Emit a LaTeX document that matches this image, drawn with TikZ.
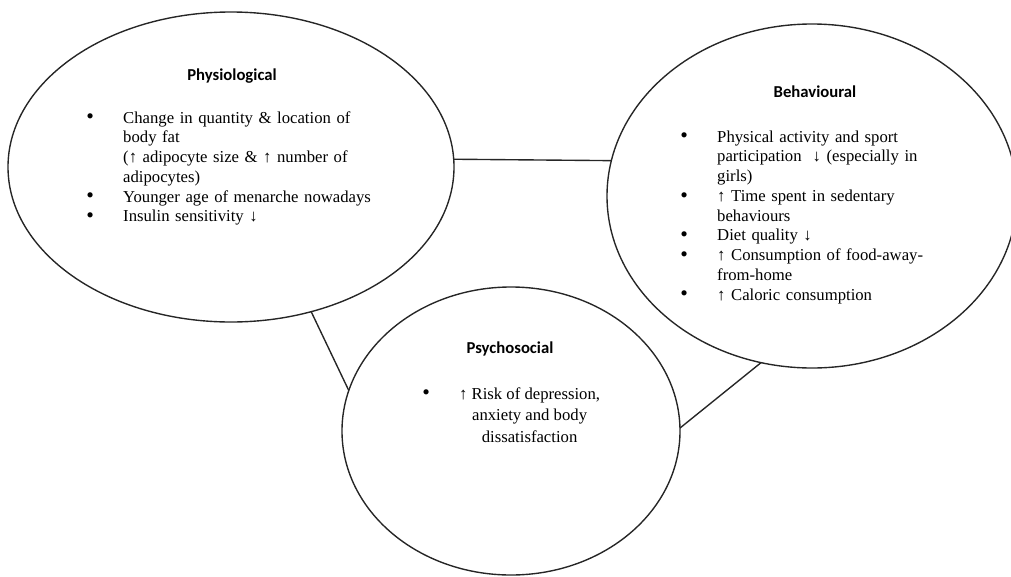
\documentclass[tikz,border=0pt]{standalone}
\usepackage{fontspec}
\setmainfont{Liberation Serif}
\newfontfamily\headfont{Carlito}
\usetikzlibrary{shapes.geometric}
\newcommand{\dotmark}{\raisebox{-0.5pt}[0pt][0pt]{\scalebox{1.3}{\textbullet}}}
\newcommand{\bitem}{\makebox[24pt][l]{\dotmark}}
\newcommand{\bcont}{\hspace*{24pt}}

\begin{document}
\begin{tikzpicture}[x=0.65pt, y=-0.65pt,
    region/.style={ellipse, draw=black!85, line width=0.9pt, inner sep=0pt, outer sep=0pt},
    heading/.style={anchor=base, inner sep=0pt, font={\headfont\bfseries\fontsize{10.85}{12.85}\selectfont}},
    itemlist/.style={anchor=base west, inner sep=0pt, text width=200pt, align=left, font={\fontsize{10.85}{12.85}\selectfont}},
    link/.style={draw=black!85, line width=0.9pt},
]
    \useasboundingbox (0,0) rectangle (1011,576);
    \node[region, minimum width=289.9pt, minimum height=201.5pt] (phys) at (231,167) {};
    \node[region, minimum width=266.5pt, minimum height=223.6pt] (beh) at (812,196) {};
    \node[region, minimum width=219.7pt, minimum height=187.2pt] (psy) at (511,431) {};
    \foreach \a/\b in {phys.2/beh.170, phys.-61/psy.166, beh.-107/psy.1}
        \draw[link] (\a) -- (\b);
    % Physiological
    \node[heading] (physhead) at (232,80) {Physiological};
    \node[itemlist] (physlist) at (86,123) {
        \bitem Change in quantity \& location of\\
        \bcont body fat\\
        \bcont (↑ adipocyte size \& ↑ number of\\
        \bcont adipocytes)\\
        \bitem Younger age of menarche nowadays\\
        \bitem Insulin sensitivity ↓};
    % Behavioural
    \node[heading] (behhead) at (815,97) {Behavioural};
    \node[itemlist] (behlist) at (680,142) {
        \bitem Physical activity and sport\\
        \bcont participation~ ↓ (especially in\\
        \bcont girls)\\
        \bitem ↑ Time spent in sedentary\\
        \bcont behaviours\\
        \bitem Diet quality ↓\\
        \bitem ↑ Consumption of food-away-\\
        \bcont from-home\\
        \bitem ↑ Caloric consumption};
    % Psychosocial
    \node[heading] (psyhead) at (510,353) {Psychosocial};
    \node[anchor=base west, inner sep=0pt, font={\fontsize{10.85}{14}\selectfont}] (psylist) at (422,399) {%
        \begin{tabular}[t]{@{}l@{\hspace{19pt}}c@{}}
        \dotmark & ↑ Risk of depression,\\
         & anxiety and body\\
         & dissatisfaction
        \end{tabular}};
\end{tikzpicture}
\end{document}
